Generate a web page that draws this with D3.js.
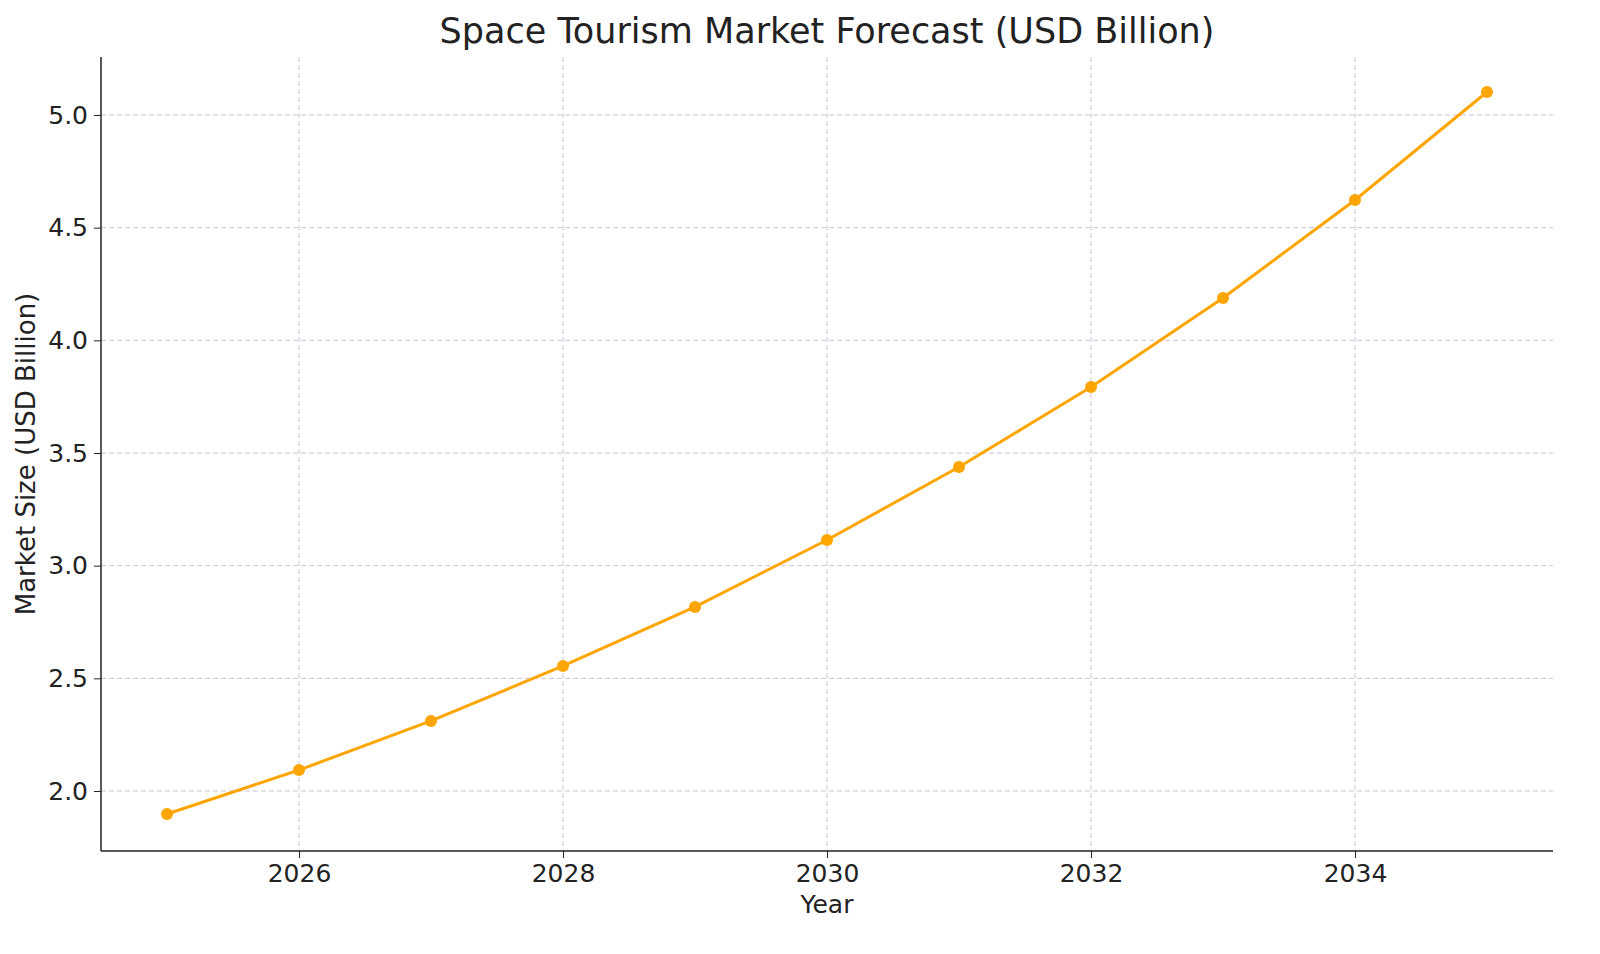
<!DOCTYPE html>
<html><head><meta charset="utf-8">
<script src="https://cdn.jsdelivr.net/npm/d3@7"></script>
<style>body{margin:0;background:#fff}svg{font-family:"DejaVu Sans",sans-serif}</style>
</head><body><svg id="c" width="1600" height="954"></svg>
<script>
const years=[2025,2026,2027,2028,2029,2030,2031,2032,2033,2034,2035];
const values=[1.898,2.093,2.311,2.555,2.817,3.114,3.438,3.793,4.188,4.623,5.102];
const xTicks=[2026,2028,2030,2032,2034];
const yTicks=[2.0,2.5,3.0,3.5,4.0,4.5,5.0];
const svg=d3.select("#c");
const L=101,R=1553,T=57,B=851;
const x=d3.scaleLinear().domain([2025,2035]).range([167,1487]);
const y=d3.scaleLinear().domain([2.0,5.0]).range([791,115]);
const g=svg.append("g");
g.selectAll(".gx").data(xTicks).join("line").attr("x1",d=>x(d)).attr("x2",d=>x(d)).attr("y1",T).attr("y2",B)
 .attr("stroke","#c9c3d6").attr("stroke-dasharray","5,3").attr("stroke-width",1);
g.selectAll(".gy").data(yTicks).join("line").attr("y1",d=>y(d)).attr("y2",d=>y(d)).attr("x1",L).attr("x2",R)
 .attr("stroke","#c9c3d6").attr("stroke-dasharray","5,3").attr("stroke-width",1);
const xa=svg.append("g").attr("transform",`translate(0,${B})`).call(d3.axisBottom(x).tickValues(xTicks).tickFormat(d3.format("d")).tickSizeOuter(0).tickSize(7).tickPadding(6));
const ya=svg.append("g").attr("transform",`translate(${L},0)`).call(d3.axisLeft(y).tickValues(yTicks).tickFormat(d3.format(".1f")).tickSizeOuter(0).tickSize(7).tickPadding(6));
[xa,ya].forEach(a=>{a.selectAll("text").attr("font-size",25).attr("fill","#222").attr("font-family","DejaVu Sans");a.selectAll("line").attr("stroke","#222");a.select(".domain").remove();});
svg.append("line").attr("x1",L).attr("x2",R).attr("y1",B).attr("y2",B).attr("stroke","#222").attr("stroke-width",1.5);
svg.append("line").attr("x1",L).attr("x2",L).attr("y1",T).attr("y2",B).attr("stroke","#222").attr("stroke-width",1.5);
svg.append("path").datum(years.map((d,i)=>[d,values[i]])).attr("fill","none").attr("stroke","#ffa500").attr("stroke-width",3)
 .attr("d",d3.line().x(d=>x(d[0])).y(d=>y(d[1])));
svg.selectAll(".pt").data(years).join("circle").attr("cx",d=>x(d)).attr("cy",(d,i)=>y(values[i])).attr("r",6).attr("fill","#ffa500");
svg.append("text").attr("x",827).attr("y",43).attr("text-anchor","middle").attr("font-size",35).attr("fill","#222").text("Space Tourism Market Forecast (USD Billion)");
svg.append("text").attr("x",827).attr("y",913).attr("text-anchor","middle").attr("font-size",25).attr("fill","#222").text("Year");
svg.append("text").attr("transform","translate(35,454) rotate(-90)").attr("text-anchor","middle").attr("font-size",26).attr("fill","#222").text("Market Size (USD Billion)");
</script></body></html>
